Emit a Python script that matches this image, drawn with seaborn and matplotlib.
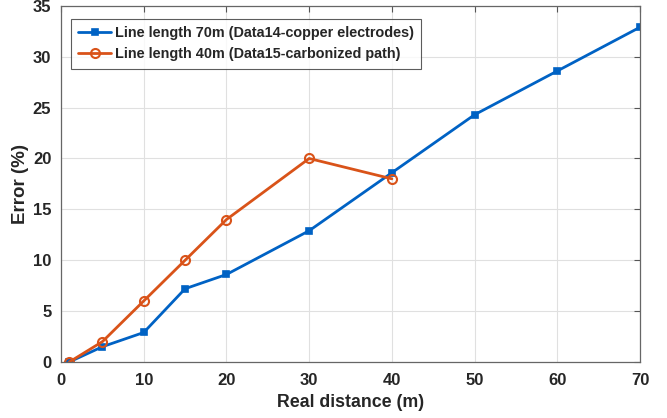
import pandas as pd
import matplotlib
matplotlib.use("Agg")
import matplotlib.pyplot as plt
import seaborn as sns

# data
dist_70 = [1, 5, 10, 15, 20, 30, 40, 50, 60, 70]
err_70 = [0, 1.5, 2.9, 7.2, 8.6, 12.9, 18.6, 24.3, 28.6, 32.9]
dist_40 = [1, 5, 10, 15, 20, 30, 40]
err_40 = [0, 2.0, 6.0, 10.0, 14.0, 20.0, 18.0]
label_70 = "Line length 70m (Data14-copper electrodes)"
label_40 = "Line length 40m (Data15-carbonized path)"
x_ticks = [0, 10, 20, 30, 40, 50, 60, 70]
y_ticks = [0, 5, 10, 15, 20, 25, 30, 35]

df70 = pd.DataFrame({"dist": dist_70, "err": err_70})
df40 = pd.DataFrame({"dist": dist_40, "err": err_40})

sns.set_style("whitegrid")
plt.rcParams["font.family"] = ["Liberation Sans", "DejaVu Sans"]
plt.rcParams["font.weight"] = "bold"

fig, ax = plt.subplots(figsize=(6.67, 4.18), dpi=100)
fig.subplots_adjust(left=0.0915, right=0.9595, top=0.986, bottom=0.134)

blue = "#0062c4"
orange = "#d95319"
sns.lineplot(data=df70, x="dist", y="err", ax=ax, color=blue, lw=2,
             marker="s", markersize=5, markerfacecolor=blue,
             markeredgecolor=blue, markeredgewidth=1.2, label=label_70)
sns.lineplot(data=df40, x="dist", y="err", ax=ax, color=orange, lw=2,
             marker="o", markersize=6.5, markerfacecolor="none",
             markeredgecolor=orange, markeredgewidth=1.5, label=label_40)

ax.set_xlim(0, 70)
ax.set_ylim(0, 35)
ax.set_xticks(x_ticks)
ax.set_yticks(y_ticks)
ax.tick_params(labelsize=12, direction="in", top=True, right=True, length=4,
               color="#555555")
ax.tick_params(axis="x", pad=8)
ax.tick_params(axis="y", pad=7)
for t in ax.get_xticklabels() + ax.get_yticklabels():
    t.set_fontweight("bold")
ax.grid(True, color="#e0e0e0", lw=0.8)
for s in ax.spines.values():
    s.set_color("#666666")
    s.set_linewidth(0.9)
ax.set_xlabel("Real distance (m)", fontsize=12.8, fontweight="bold", labelpad=4)
ax.set_ylabel("Error (%)", fontsize=13.5, fontweight="bold", labelpad=3)

leg = ax.legend(loc="upper left", bbox_to_anchor=(0.017, 0.963), fontsize=10.4,
                frameon=True, fancybox=False, edgecolor="#333333",
                handlelength=2.3, handletextpad=0.25, borderpad=0.5,
                labelspacing=0.5, borderaxespad=0)
leg.get_frame().set_linewidth(0.8)
for t in leg.get_texts():
    t.set_fontweight("bold")

fig.savefig("out.png", dpi=100)
